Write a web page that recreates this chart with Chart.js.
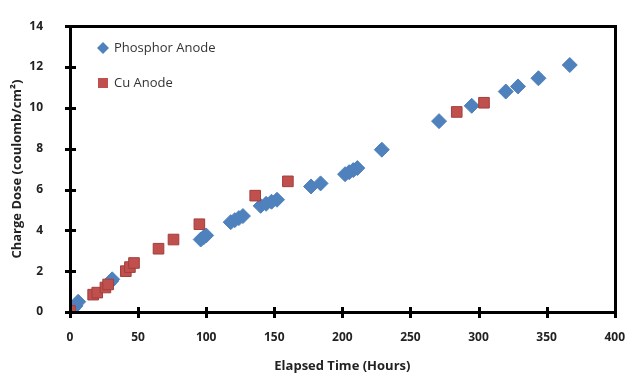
<!DOCTYPE html>
<html lang="en">
<head>
    <meta charset="UTF-8">
    <title>Charge Dose vs Elapsed Time</title>
    <script src="https://cdn.jsdelivr.net/npm/chart.js"></script>
    <style>
        html, body { margin: 0; padding: 0; background: #ffffff; }
        #wrap { position: relative; width: 635px; height: 376px; }
        #wrap canvas { position: absolute; left: 0; top: 0; }
        .frame { position: absolute; border: 3px solid #000; box-sizing: border-box; pointer-events: none; }
        .tick { position: absolute; background: #000; pointer-events: none; }
    </style>
</head>
<body>
    <div id="wrap"><canvas id="doseChart" width="635" height="376"></canvas></div>

    <script>
        // Phosphor Anode (hours, coulomb/cm2)
        const phosphorHours = [2, 4, 6, 28, 30, 31, 96, 98, 100, 118, 121, 124, 127, 140, 144, 148, 152, 177, 184, 202, 205, 208, 211, 229, 271, 295, 320, 329, 344, 367];
        const phosphorDose  = [0.15, 0.3, 0.5, 1.35, 1.5, 1.6, 3.55, 3.65, 3.75, 4.4, 4.5, 4.6, 4.7, 5.2, 5.3, 5.4, 5.5, 6.15, 6.3, 6.75, 6.85, 6.95, 7.05, 7.95, 9.35, 10.1, 10.8, 11.05, 11.45, 12.1];

        // Cu Anode
        const cuHours = [0, 17, 20, 26, 28, 41, 44, 47, 65, 76, 95, 136, 160, 284, 304];
        const cuDose  = [0.05, 0.85, 0.95, 1.2, 1.35, 2.0, 2.2, 2.4, 3.1, 3.55, 4.3, 5.7, 6.4, 9.8, 10.25];

        const xTicks = [0, 50, 100, 150, 200, 250, 300, 350, 400];
        const yTicks = [0, 2, 4, 6, 8, 10, 12, 14];

        const toPoints = (xs, ys) => xs.map((x, i) => ({ x: x, y: ys[i] }));

        const blue = '#4F81BD';
        const red = '#C0504D';
        const tickFont = { family: 'Open Sans', size: 12, weight: 'bold' };

        // legend inside the plot
        const legendBox = {
            id: 'legendBox',
            afterDraw(chart) {
                const c = chart.ctx;
                c.save();
                c.fillStyle = blue;
                c.beginPath();
                c.moveTo(103, 42);
                c.lineTo(109, 48);
                c.lineTo(103, 54);
                c.lineTo(97, 48);
                c.closePath();
                c.fill();
                c.fillStyle = red;
                c.fillRect(98, 78, 10, 10);
                c.fillStyle = '#333333';
                c.font = '13px "Open Sans"';
                c.textBaseline = 'middle';
                c.fillText('Phosphor Anode', 114, 48);
                c.fillText('Cu Anode', 114, 83);
                c.restore();
            }
        };

        const chart = new Chart(document.getElementById('doseChart'), {
            type: 'scatter',
            data: {
                datasets: [
                    {
                        label: 'Phosphor Anode',
                        data: toPoints(phosphorHours, phosphorDose),
                        pointStyle: 'rectRot',
                        pointRadius: 7.5,
                        backgroundColor: blue,
                        borderColor: blue,
                        borderWidth: 1,
                        order: 1
                    },
                    {
                        label: 'Cu Anode',
                        data: toPoints(cuHours, cuDose),
                        pointStyle: 'rect',
                        pointRadius: 7.5,
                        backgroundColor: red,
                        borderColor: '#A33E3B',
                        borderWidth: 1,
                        order: 0
                    }
                ]
            },
            options: {
                responsive: false,
                animation: false,
                layout: { padding: { left: 0, right: 3, top: 1, bottom: 0 } },
                plugins: {
                    legend: { display: false },
                    tooltip: { enabled: false }
                },
                scales: {
                    x: {
                        min: 0,
                        max: 400,
                        afterBuildTicks: s => { s.ticks = xTicks.map(v => ({ value: v })); },
                        afterFit: s => { s.height = 64; },
                        grid: { display: false },
                        border: { display: true, color: '#000', width: 3 },
                        ticks: { font: tickFont, color: '#222', padding: 10, maxRotation: 0 },
                        title: {
                            display: true,
                            text: 'Elapsed Time (Hours)',
                            font: { family: 'Open Sans', size: 13, weight: 'bold' },
                            color: '#222',
                            padding: { top: 4, bottom: 2 }
                        }
                    },
                    y: {
                        min: 0,
                        max: 14,
                        afterBuildTicks: s => { s.ticks = yTicks.map(v => ({ value: v })); },
                        afterFit: s => { s.width = 70; },
                        grid: { display: false },
                        border: { display: true, color: '#000', width: 3 },
                        ticks: { font: tickFont, color: '#222', padding: 19 },
                        title: {
                            display: true,
                            text: 'Charge Dose (coulomb/cm\u00B2)',
                            font: { family: 'Open Sans', size: 13, weight: 'bold' },
                            color: '#222',
                            padding: { top: 9, bottom: 0 }
                        }
                    }
                }
            },
            plugins: [legendBox]
        });

        // plot box and crossing tick marks, placed from the chart's own area and scales
        const wrap = document.getElementById('wrap');
        const area = chart.chartArea;
        const box = document.createElement('div');
        box.className = 'frame';
        box.style.left = (Math.round(area.left) - 1) + 'px';
        box.style.top = (Math.round(area.top) - 1) + 'px';
        box.style.width = (Math.round(area.right - area.left) + 3) + 'px';
        box.style.height = (Math.round(area.bottom - area.top) + 3) + 'px';
        wrap.appendChild(box);

        xTicks.forEach(v => {
            const t = document.createElement('div');
            t.className = 'tick';
            t.style.left = (Math.round(chart.scales.x.getPixelForValue(v)) - 1) + 'px';
            t.style.top = (Math.round(area.bottom) - 5) + 'px';
            t.style.width = '3px';
            t.style.height = '11px';
            wrap.appendChild(t);
        });
        yTicks.forEach(v => {
            const t = document.createElement('div');
            t.className = 'tick';
            t.style.left = (Math.round(area.left) - 5) + 'px';
            t.style.top = (Math.round(chart.scales.y.getPixelForValue(v)) - 1) + 'px';
            t.style.width = '11px';
            t.style.height = '3px';
            wrap.appendChild(t);
        });
    </script>
</body>
</html>
